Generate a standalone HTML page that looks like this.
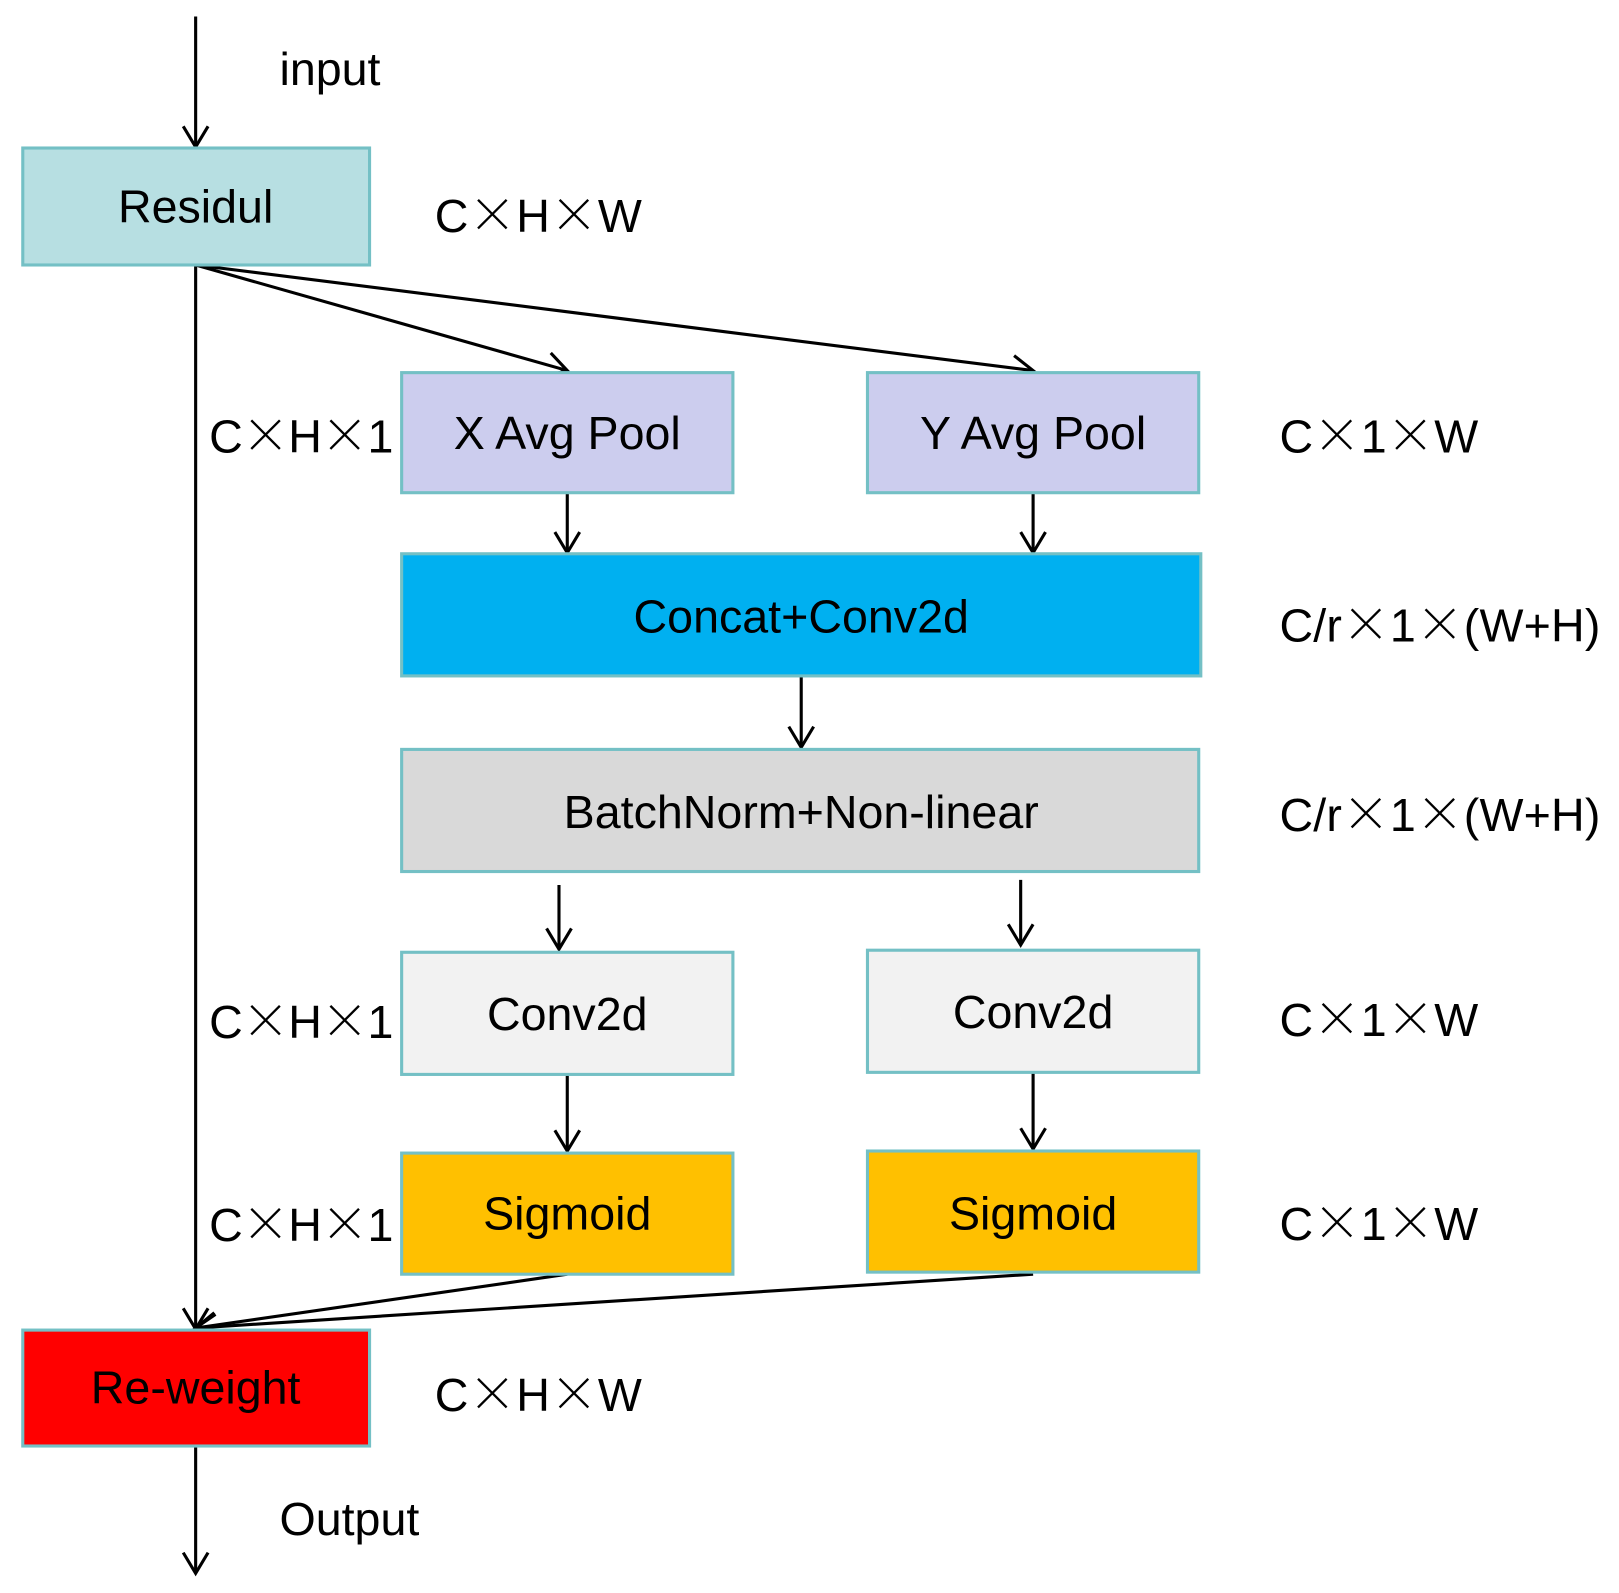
<!DOCTYPE html>
<html><head><meta charset="utf-8"><style>
html,body{margin:0;padding:0;background:#fff;}
svg{display:block;}
text{font-family:"Liberation Sans",Arial,sans-serif;fill:#000;}
.x{font-family:"Noto Sans CJK SC","WenQuanYi Zen Hei",sans-serif;font-weight:300;font-size:46px;}
</style></head><body>
<svg width="1619" height="1593" viewBox="0 0 1564 1539" preserveAspectRatio="none" xmlns="http://www.w3.org/2000/svg">
<defs>
<marker id="a" markerWidth="30" markerHeight="30" refX="22" refY="15" orient="auto" markerUnits="userSpaceOnUse">
<path d="M2,3 L22,15 L2,27" fill="none" stroke="#000" stroke-width="3"/>
</marker>
</defs>
<g stroke="#000" stroke-width="3" fill="none" marker-end="url(#a)">
<line x1="189" y1="16" x2="189" y2="142"/>
<line x1="189" y1="256" x2="548" y2="358"/>
<line x1="189" y1="256" x2="998" y2="358"/>
<line x1="189" y1="256" x2="189" y2="1284"/>
<line x1="548" y1="476" x2="548" y2="534"/>
<line x1="998" y1="476" x2="998" y2="534"/>
<line x1="774" y1="653" x2="774" y2="722"/>
<line x1="540" y1="855" x2="540" y2="917"/>
<line x1="986" y1="850" x2="986" y2="913"/>
<line x1="548" y1="1038" x2="548" y2="1112"/>
<line x1="998" y1="1036" x2="998" y2="1110"/>
<line x1="548" y1="1231" x2="189" y2="1283"/>
<line x1="998" y1="1231" x2="189" y2="1283"/>
<line x1="189" y1="1397" x2="189" y2="1520"/>
</g>
<g stroke="#74c0c5" stroke-width="3">
<rect x="22" y="143" width="335" height="113" fill="#b7dfe2"/>
<rect x="388" y="360" width="320" height="116" fill="#cccdee"/>
<rect x="838" y="360" width="320" height="116" fill="#cccdee"/>
<rect x="388" y="535" width="772" height="118" fill="#00b0f0"/>
<rect x="388" y="724" width="770" height="118" fill="#d9d9d9"/>
<rect x="388" y="920" width="320" height="118" fill="#f2f2f2"/>
<rect x="838" y="918" width="320" height="118" fill="#f2f2f2"/>
<rect x="388" y="1114" width="320" height="117" fill="#ffc000"/>
<rect x="838" y="1112" width="320" height="117" fill="#ffc000"/>
<rect x="22" y="1285" width="335" height="112" fill="#ff0000"/>
</g>
<g font-size="45" text-anchor="middle">
<text x="189" y="215">Residul</text>
<text x="548" y="434">X Avg Pool</text>
<text x="998" y="434">Y Avg Pool</text>
<text x="774" y="611">Concat+Conv2d</text>
<text x="774" y="800">BatchNorm+Non-linear</text>
<text x="548" y="995">Conv2d</text>
<text x="998" y="993">Conv2d</text>
<text x="548" y="1188">Sigmoid</text>
<text x="998" y="1188">Sigmoid</text>
<text x="189" y="1356">Re-weight</text>
</g>
<g font-size="45">
<text x="270" y="82">input</text>
<text x="270" y="1483">Output</text>
<text x="420" y="224" textLength="200" lengthAdjust="spacing">C<tspan class="x">×</tspan>H<tspan class="x">×</tspan>W</text>
<text x="420" y="1363" textLength="200" lengthAdjust="spacing">C<tspan class="x">×</tspan>H<tspan class="x">×</tspan>W</text>
<text x="202" y="437" textLength="178" lengthAdjust="spacing">C<tspan class="x">×</tspan>H<tspan class="x">×</tspan>1</text>
<text x="202" y="1003" textLength="178" lengthAdjust="spacing">C<tspan class="x">×</tspan>H<tspan class="x">×</tspan>1</text>
<text x="202" y="1199" textLength="178" lengthAdjust="spacing">C<tspan class="x">×</tspan>H<tspan class="x">×</tspan>1</text>
<text x="1236" y="437" textLength="192" lengthAdjust="spacing">C<tspan class="x">×</tspan>1<tspan class="x">×</tspan>W</text>
<text x="1236" y="1001" textLength="192" lengthAdjust="spacing">C<tspan class="x">×</tspan>1<tspan class="x">×</tspan>W</text>
<text x="1236" y="1198" textLength="192" lengthAdjust="spacing">C<tspan class="x">×</tspan>1<tspan class="x">×</tspan>W</text>
<text x="1236" y="620" textLength="310" lengthAdjust="spacing">C/r<tspan class="x">×</tspan>1<tspan class="x">×</tspan>(W+H)</text>
<text x="1236" y="803" textLength="310" lengthAdjust="spacing">C/r<tspan class="x">×</tspan>1<tspan class="x">×</tspan>(W+H)</text>
</g>
</svg>
</body></html>
